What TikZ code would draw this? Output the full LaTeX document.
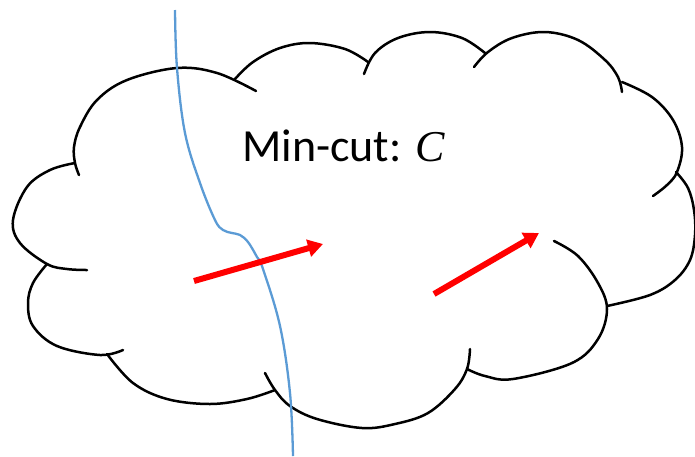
\documentclass[tikz,border=0pt]{standalone}
\usepackage{fontspec}
\setmainfont{Carlito}
\newfontfamily\varfont{Liberation Serif}
\usetikzlibrary{arrows.meta}
\definecolor{cutblue}{RGB}{91,155,213}
\tikzset{
  cloudarc/.style={draw=black, line width=2.5pt, line cap=round},
  cutline/.style={draw=cutblue, line width=2.3pt},
  flowarrow/.style={draw=red, line width=6pt, -{Triangle[length=15pt,width=17pt]}, red},
  lbl/.style={inner sep=0pt, anchor=base west, font=\fontsize{46}{54}\selectfont}
}
\begin{document}
\begin{tikzpicture}[x=1pt,y=-1pt]
\useasboundingbox (0,0) rectangle (695,456);
% cloud arcs
\draw[cloudarc] plot[smooth,tension=0.6] coordinates {(79,175) (75,163) (74,147) (80,127) (97,100) (127,80) (177,68) (217,73) (256,91)};
\draw[cloudarc] plot[smooth,tension=0.6] coordinates {(235,79) (253,62) (280,48) (310,43) (345,49) (368,62)};
\draw[cloudarc] plot[smooth,tension=0.6] coordinates {(364,74) (375,53) (398,38) (430,32) (462,38) (485,53)};
\draw[cloudarc] plot[smooth,tension=0.6] coordinates {(474,67) (488,52) (512,38) (545,32) (578,40) (605,60) (618,77) (622,92)};
\draw[cloudarc] plot[smooth,tension=0.6] coordinates {(622,82) (652,97) (673,120) (682,147) (677,172) (667,185) (653,196)};
\draw[cloudarc] plot[smooth,tension=0.6] coordinates {(676,172) (688,188) (694,210) (695,235) (690,260) (675,280) (650,295) (607,306)};
\draw[cloudarc] plot[smooth,tension=0.6] coordinates {(554,241) (578,256) (598,283) (607,309) (598,339) (572,363) (513,379) (485,376) (467,369)};
\draw[cloudarc] plot[smooth,tension=0.6] coordinates {(470,349) (467,369) (455,389) (428,413) (395,424) (362,428) (317,419) (290,406) (275,390) (265,373)};
\draw[cloudarc] plot[smooth,tension=0.6] coordinates {(275,390) (247,399) (210,404) (167,399) (133,383) (107,354)};
\draw[cloudarc] plot[smooth,tension=0.6] coordinates {(47,264) (33,283) (28,303) (33,326) (57,346) (100,355) (123,350)};
\draw[cloudarc] plot[smooth,tension=0.6] coordinates {(75,163) (50,170) (27,187) (13,220) (20,243) (47,264) (67,269) (87,270)};
% label
\node[lbl] (title) at (242,161) {Min-cut: {\varfont\itshape\fontsize{44}{52}\selectfont C}};
% cut line
\draw[cutline] plot[smooth,tension=0.6] coordinates {(175,10) (177,68) (185,133) (200,183) (215,220) (223,230) (232,233) (240,235) (248,242) (257,257) (263,269) (280,326) (290,393) (293,456)};
% arrows
\coordinate (a1s) at (194,281);
\coordinate (a1e) at (323,244);
\coordinate (a2s) at (434,294);
\coordinate (a2e) at (539,233);
\draw[flowarrow] (a1s) -- (a1e);
\draw[flowarrow] (a2s) -- (a2e);
\end{tikzpicture}
\end{document}
